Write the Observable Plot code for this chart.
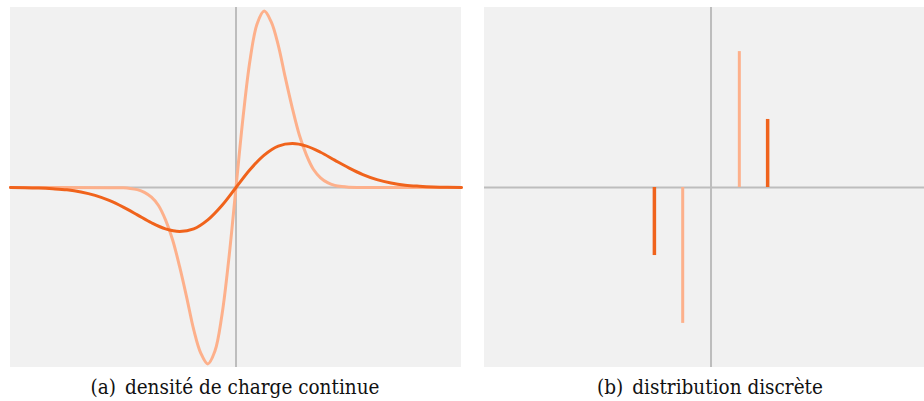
<!DOCTYPE html>
<html>
<head>
<meta charset="utf-8">
<script src="https://cdn.jsdelivr.net/npm/d3@7"></script>
<script src="https://cdn.jsdelivr.net/npm/@observablehq/plot@0.6"></script>
<style>
  html, body { margin: 0; padding: 0; background: #ffffff; }
  #wrap { position: relative; width: 924px; height: 401px; overflow: hidden; }
  .panel { position: absolute; top: 7px; }
  .cap { position: absolute; top: 377px; transform: translateX(-50%); white-space: nowrap; font-size: 20.5px; color: #111; line-height: 1;
         font-family: 'DejaVu Serif Condensed', 'DejaVu Serif', serif; font-stretch: condensed; }
  .cap .tag { margin-right: 9px; }
</style>
</head>
<body>
<div id="wrap">
  <div id="pa" class="panel" style="left:10px"></div>
  <div id="pb" class="panel" style="left:484px"></div>
  <div class="cap" style="left:235px"><span class="tag">(a)</span>densité de charge continue</div>
  <div class="cap" style="left:710px"><span class="tag">(b)</span>distribution discrète</div>
</div>
<script>
// ---- data (x in units of the narrow peak offset, y relative to half-height) ----
const lightX = [-8, -4, -3.75, -3.5, -3.25, -3, -2.75, -2.5, -2.25, -2, -1.75, -1.5, -1.25, -1, -0.75, -0.5, -0.25,
                0, 0.25, 0.5, 0.75, 1, 1.25, 1.5, 1.75, 2, 2.25, 2.5, 2.75, 3, 3.25, 3.5, 3.75, 4, 8];
const lightY = [0, -0.002, -0.005, -0.012, -0.027, -0.054, -0.10, -0.18, -0.29, -0.44, -0.61, -0.79, -0.92, -0.98, -0.91, -0.71, -0.39,
                0, 0.39, 0.71, 0.91, 0.98, 0.92, 0.79, 0.61, 0.44, 0.29, 0.18, 0.10, 0.054, 0.027, 0.012, 0.005, 0.002, 0];

const darkX = [-8, -7.5, -7, -6.5, -6, -5.5, -5, -4.5, -4, -3.5, -3, -2.5, -2, -1.5, -1, -0.5,
               0, 0.5, 1, 1.5, 2, 2.5, 3, 3.5, 4, 4.5, 5, 5.5, 6, 6.5, 7, 7.5, 8];
const darkY = [-0.0005, -0.001, -0.003, -0.007, -0.013, -0.025, -0.044, -0.072, -0.109, -0.152, -0.196, -0.23, -0.244, -0.23, -0.18, -0.10,
               0, 0.10, 0.18, 0.23, 0.244, 0.23, 0.196, 0.152, 0.109, 0.072, 0.044, 0.025, 0.013, 0.007, 0.003, 0.001, 0.0005];

const stemX = [-2, -1, 1, 2];
const stemQ = [-0.378, -0.755, 0.755, 0.378];
const stemKind = ["dark", "light", "light", "dark"];

const lightColor = "#fdb08b";
const darkColor = "#f0631c";
const axisColor = "#bdbdbd";
const bg = "#f1f1f1";

const lightData = lightX.map((x, i) => ({x, y: lightY[i]}));
const darkData = darkX.map((x, i) => ({x, y: darkY[i]}));
const stems = stemX.map((x, i) => ({x, q: stemQ[i], kind: stemKind[i]}));

const common = {
  height: 360,
  margin: 0, marginTop: 0, marginRight: 0, marginBottom: 0, marginLeft: 0,
  y: {domain: [-1, 1], axis: null},
  style: {background: bg, overflow: "visible"}
};

const a = Plot.plot({
  ...common,
  width: 451,
  x: {domain: [-8, 8], axis: null},
  marks: [
    Plot.ruleY([0], {stroke: axisColor, strokeWidth: 2}),
    Plot.ruleX([0], {stroke: axisColor, strokeWidth: 2}),
    Plot.line(lightData, {x: "x", y: "y", stroke: lightColor, strokeWidth: 3, curve: "catmull-rom"}),
    Plot.line(darkData, {x: "x", y: "y", stroke: darkColor, strokeWidth: 3, curve: "catmull-rom"})
  ]
});
document.getElementById("pa").appendChild(a);

const b = Plot.plot({
  ...common,
  width: 440,
  x: {domain: [-8, 213 / 28.25], axis: null},
  marks: [
    Plot.ruleY([0], {stroke: axisColor, strokeWidth: 2}),
    Plot.ruleX([0], {stroke: axisColor, strokeWidth: 2}),
    Plot.ruleX(stems, {x: "x", y1: 0, y2: "q",
      stroke: d => d.kind === "light" ? lightColor : darkColor,
      strokeWidth: d => d.kind === "light" ? 3 : 3.5})
  ]
});
document.getElementById("pb").appendChild(b);
</script>
</body>
</html>
